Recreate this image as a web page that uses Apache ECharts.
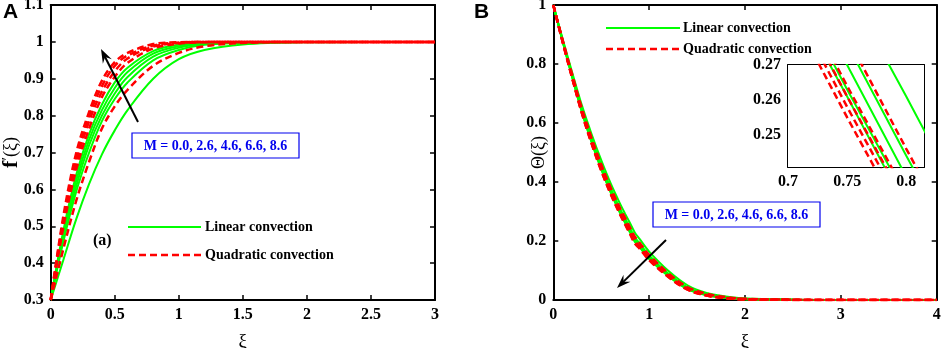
<!DOCTYPE html>
<html>
<head>
<meta charset="utf-8">
<script src="https://cdn.jsdelivr.net/npm/echarts@6/dist/echarts.min.js"></script>
<style>
html,body{margin:0;padding:0;background:#fff}
#main{width:941px;height:348px}
</style>
</head>
<body>
<div id="main"></div>
<script>
// panel A : f'(xi), one row per M value
var xiA = [0, 0.1, 0.2, 0.3, 0.4, 0.5, 0.6, 0.8, 1.0, 1.2, 1.5, 2.0, 2.5, 3.0];
var fLinear = [
  [0.3, 0.41, 0.52, 0.615, 0.695, 0.76, 0.815, 0.90, 0.953, 0.978, 0.993, 0.999, 1, 1],
  [0.3, 0.46, 0.595, 0.70, 0.785, 0.845, 0.89, 0.95, 0.978, 0.992, 0.998, 1, 1, 1],
  [0.3, 0.47, 0.61, 0.72, 0.80, 0.86, 0.905, 0.96, 0.984, 0.994, 0.999, 1, 1, 1],
  [0.3, 0.48, 0.625, 0.735, 0.815, 0.875, 0.918, 0.968, 0.988, 0.996, 0.999, 1, 1, 1],
  [0.3, 0.49, 0.64, 0.75, 0.83, 0.89, 0.93, 0.975, 0.992, 0.997, 1, 1, 1, 1]
];
var fQuadratic = [
  [0.3, 0.44, 0.57, 0.675, 0.765, 0.825, 0.87, 0.935, 0.97, 0.988, 0.997, 1, 1, 1],
  [0.3, 0.50, 0.655, 0.765, 0.85, 0.905, 0.943, 0.982, 0.995, 0.999, 1, 1, 1, 1],
  [0.3, 0.51, 0.67, 0.785, 0.865, 0.92, 0.955, 0.987, 0.997, 1, 1, 1, 1, 1],
  [0.3, 0.52, 0.685, 0.80, 0.88, 0.935, 0.963, 0.99, 0.998, 1, 1, 1, 1, 1],
  [0.3, 0.53, 0.70, 0.81, 0.895, 0.945, 0.97, 0.994, 0.999, 1, 1, 1, 1, 1]
];

// panel B : Theta(xi)
var xiB = [0, 0.1, 0.2, 0.3, 0.4, 0.5, 0.6, 0.7, 0.75, 0.8, 0.85, 0.9, 1.0, 1.2, 1.4, 1.6, 1.8, 2.0, 2.5, 3, 4];
var thetaLinear = [
  [1, 0.882, 0.768, 0.658, 0.562, 0.474, 0.394, 0.324, 0.292, 0.261, 0.229, 0.207, 0.164, 0.099, 0.050, 0.024, 0.012, 0.005, 0.001, 0, 0],
  [1, 0.878, 0.759, 0.646, 0.547, 0.458, 0.378, 0.307, 0.276, 0.244, 0.213, 0.192, 0.151, 0.090, 0.043, 0.020, 0.009, 0.004, 0.001, 0, 0],
  [1, 0.876, 0.756, 0.642, 0.542, 0.452, 0.372, 0.301, 0.270, 0.238, 0.207, 0.187, 0.147, 0.086, 0.041, 0.019, 0.008, 0.003, 0.0005, 0, 0],
  [1, 0.874, 0.753, 0.637, 0.536, 0.446, 0.366, 0.295, 0.263, 0.232, 0.200, 0.181, 0.142, 0.083, 0.038, 0.017, 0.007, 0.003, 0.0005, 0, 0],
  [1, 0.873, 0.751, 0.635, 0.534, 0.443, 0.363, 0.292, 0.261, 0.229, 0.198, 0.179, 0.139, 0.081, 0.037, 0.016, 0.007, 0.002, 0.0004, 0, 0]
];
var thetaQuadratic = [
  [1, 0.878, 0.761, 0.648, 0.549, 0.460, 0.380, 0.309, 0.278, 0.246, 0.215, 0.194, 0.153, 0.091, 0.044, 0.021, 0.010, 0.004, 0.001, 0, 0],
  [1, 0.874, 0.753, 0.637, 0.537, 0.447, 0.367, 0.296, 0.264, 0.233, 0.201, 0.182, 0.142, 0.083, 0.039, 0.017, 0.007, 0.003, 0.0005, 0, 0],
  [1, 0.873, 0.751, 0.635, 0.534, 0.443, 0.363, 0.293, 0.261, 0.230, 0.198, 0.179, 0.139, 0.081, 0.037, 0.016, 0.007, 0.002, 0.0004, 0, 0],
  [1, 0.872, 0.750, 0.632, 0.531, 0.440, 0.360, 0.290, 0.258, 0.227, 0.195, 0.176, 0.137, 0.079, 0.036, 0.015, 0.006, 0.002, 0.0003, 0, 0],
  [1, 0.871, 0.748, 0.631, 0.529, 0.438, 0.358, 0.287, 0.255, 0.224, 0.192, 0.174, 0.135, 0.078, 0.035, 0.015, 0.006, 0.002, 0.0003, 0, 0]
];

var mValues = ['0.0', '2.6', '4.6', '6.6', '8.6'];
var insetXTicks = [0.7, 0.75, 0.8];
var insetYTicks = [0.25, 0.26, 0.27];

var GREEN = '#00ff00', RED = '#ff0000', BLUE = '#0000ee';
var SERIF = 'Liberation Serif';
var mText = 'M = ' + mValues.join(', ');

function pairs(xs, ys) {
  return xs.map(function (x, i) { return [x, ys[i]]; });
}

function axis(grid, pos, min, max, interval, showLabel, extra) {
  var a = {
    gridIndex: grid, type: 'value', position: pos, min: min, max: max,
    axisLine: {show: true, onZero: false, lineStyle: {color: '#000', width: 2}},
    axisTick: {show: true, inside: true, length: 5, lineStyle: {color: '#000', width: 1.5}},
    axisLabel: {show: showLabel, fontFamily: SERIF, fontWeight: 'bold', fontSize: 16, color: '#000', margin: 7},
    splitLine: {show: false},
    nameMoveOverlap: false
  };
  if (interval) a.interval = interval;
  if (extra) {
    for (var k in extra) a[k] = extra[k];
  }
  return a;
}

var nameStyle = {fontFamily: SERIF, fontSize: 19, color: '#000'};

var xAxes = [
  axis(0, 'bottom', 0, 3, 0.5, true, {name: 'ξ', nameLocation: 'middle', nameGap: 33, nameTextStyle: nameStyle}),
  axis(0, 'top', 0, 3, 0.5, false),
  axis(1, 'bottom', 0, 4, 1, true, {name: 'ξ', nameLocation: 'middle', nameGap: 33, nameTextStyle: nameStyle}),
  axis(1, 'top', 0, 4, 1, false),
  axis(2, 'bottom', 0.7, 0.815, null, true),
  axis(2, 'top', 0.7, 0.815, null, false)
];
var yAxes = [
  axis(0, 'left', 0.3, 1.1, 0.1, true, {
    name: '{f|f}{p|′}{n|(ξ)}', nameLocation: 'middle', nameGap: 28,
    nameTextStyle: {rich: {
      f: {fontFamily: SERIF, fontWeight: 'bold', fontSize: 22, color: '#000'},
      p: {fontFamily: SERIF, fontSize: 16, color: '#000', verticalAlign: 'top'},
      n: {fontFamily: SERIF, fontSize: 18, color: '#000'}
    }}
  }),
  axis(0, 'right', 0.3, 1.1, 0.1, false),
  axis(1, 'left', 0, 1, 0.2, true, {name: 'Θ(ξ)', nameLocation: 'middle', nameGap: 5, nameTextStyle: {fontFamily: SERIF, fontSize: 18, color: '#000'}}),
  axis(1, 'right', 0, 1, 0.2, false),
  axis(2, 'left', 0.2408, 0.27, null, true),
  axis(2, 'right', 0.2408, 0.27, null, false)
];
// inset ticks at fixed values
[4, 5].forEach(function (i) {
  xAxes[i].axisTick.customValues = insetXTicks;
  xAxes[i].axisLabel.customValues = insetXTicks;
  yAxes[i].axisTick.customValues = insetYTicks;
  yAxes[i].axisLabel.customValues = insetYTicks;
});

var series = [];
function addCurves(xs, sets, color, dashed, axisIdx, smooth, z) {
  sets.forEach(function (ys) {
    series.push({
      type: 'line', xAxisIndex: axisIdx, yAxisIndex: axisIdx,
      data: pairs(xs, ys), symbol: 'none', showSymbol: false,
      smooth: smooth, clip: true, silent: true, z: z,
      lineStyle: {color: color, width: dashed ? 2.5 : 2, type: dashed ? [7, 4] : 'solid'}
    });
  });
}
addCurves(xiA, fLinear, GREEN, false, 0, 0.35, 2);
addCurves(xiA, fQuadratic, RED, true, 0, 0.35, 3);
addCurves(xiB, thetaLinear, GREEN, false, 2, 0.35, 2);
addCurves(xiB, thetaQuadratic, RED, true, 2, 0.35, 3);
addCurves(xiB, thetaLinear, GREEN, false, 4, false, 8);
addCurves(xiB, thetaQuadratic, RED, true, 4, false, 9);

function txt(x, y, s, size, opts) {
  var st = {text: s, x: x, y: y, font: 'bold ' + size + 'px "' + SERIF + '"', fill: '#000', textAlign: 'left', textVerticalAlign: 'middle'};
  if (opts) for (var k in opts) st[k] = opts[k];
  return {type: 'text', z: 10, style: st};
}
function legendLine(x1, x2, y, color, dashed) {
  return {type: 'line', z: 10, shape: {x1: x1, y1: y, x2: x2, y2: y},
    style: {stroke: color, lineWidth: dashed ? 2.5 : 2, lineDash: dashed ? [7, 4] : null}};
}
function arrow(x1, y1, x2, y2) {
  var dx = x2 - x1, dy = y2 - y1, len = Math.sqrt(dx * dx + dy * dy);
  var ux = dx / len, uy = dy / len, nx = -uy, ny = ux;
  var L = 14, W = 5;
  return [
    {type: 'line', z: 10, shape: {x1: x1, y1: y1, x2: x2 - ux * L * 0.6, y2: y2 - uy * L * 0.6},
      style: {stroke: '#000', lineWidth: 2}},
    {type: 'polygon', z: 10, shape: {points: [
      [x2, y2],
      [x2 - ux * L + nx * W, y2 - uy * L + ny * W],
      [x2 - ux * L * 0.65, y2 - uy * L * 0.65],
      [x2 - ux * L - nx * W, y2 - uy * L - ny * W]
    ]}, style: {fill: '#000'}}
  ];
}
function mBox(x, y, w, h) {
  return [
    {type: 'rect', z: 10, shape: {x: x, y: y, width: w, height: h}, style: {fill: '#fff', stroke: BLUE, lineWidth: 1.2}},
    txt(x + w / 2, y + h / 2 + 1, mText, 14, {fill: BLUE, textAlign: 'center'})
  ];
}

var graphic = [
  {type: 'text', z: 10, style: {text: 'A', x: 3, y: 2, font: 'bold 21px "Liberation Sans"', fill: '#000'}},
  {type: 'text', z: 10, style: {text: 'B', x: 474, y: 2, font: 'bold 21px "Liberation Sans"', fill: '#000'}},
  legendLine(128, 201, 227, GREEN, false),
  txt(205, 227, 'Linear convection', 14),
  legendLine(128, 201, 255, RED, true),
  txt(205, 255, 'Quadratic convection', 14),
  txt(93, 241, '(a)', 16),
  legendLine(606, 680, 28, GREEN, false),
  txt(683, 28, 'Linear convection', 14),
  legendLine(606, 680, 49, RED, true),
  txt(683, 49, 'Quadratic convection', 14)
].concat(
  arrow(138, 122, 101, 49),
  arrow(666, 240, 617, 288),
  mBox(132, 133, 167, 25),
  mBox(653, 202, 167, 25)
);

var option = {
  animation: false,
  backgroundColor: '#fff',
  grid: [
    {left: 50.7, top: 5, width: 384.3, height: 295, outerBoundsMode: 'none'},
    {left: 553.3, top: 5, width: 383.4, height: 295, outerBoundsMode: 'none'},
    {left: 788, top: 65, width: 136, height: 102, outerBoundsMode: 'none', show: true, backgroundColor: '#fff', borderWidth: 0, z: 5}
  ],
  xAxis: xAxes,
  yAxis: yAxes,
  series: series,
  graphic: graphic
};

var chart = echarts.init(document.getElementById('main'));
chart.setOption(option);
</script>
</body>
</html>
